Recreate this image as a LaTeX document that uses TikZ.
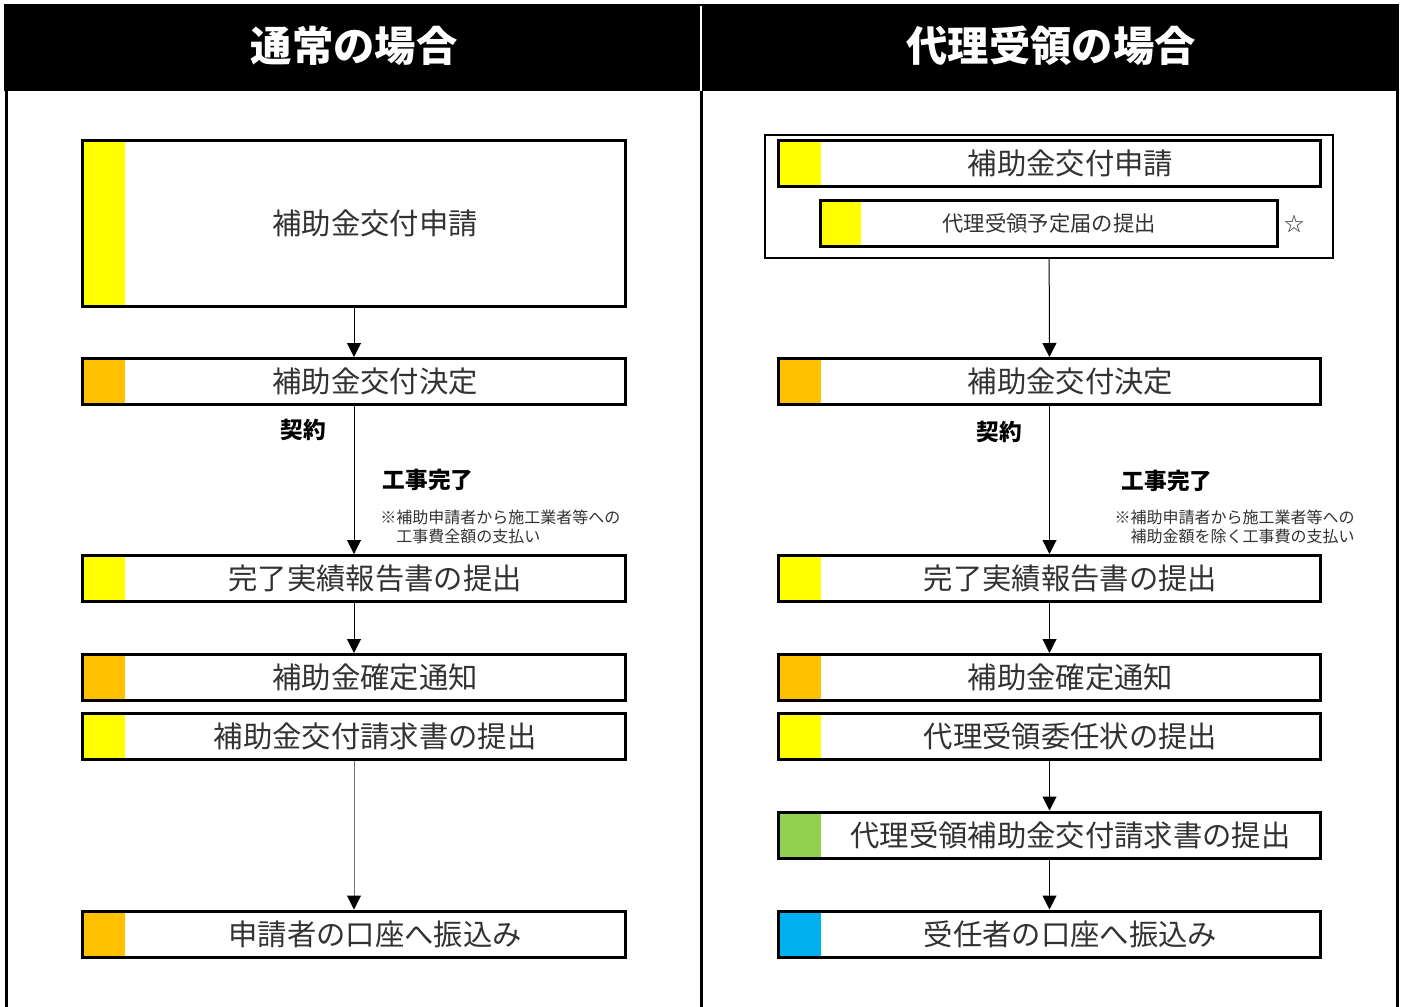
\documentclass[tikz,border=0pt]{standalone}
\usepackage{fontspec}
\setmainfont{Noto Sans CJK JP}
\usetikzlibrary{arrows.meta}

\definecolor{stepyellow}{RGB}{255,255,0}
\definecolor{steporange}{RGB}{255,192,0}
\definecolor{stepgreen}{RGB}{146,208,80}
\definecolor{stepblue}{RGB}{0,176,240}
\definecolor{boxink}{RGB}{50,50,50}

\tikzset{
  flowbox/.style={draw, line width=2.25pt, rectangle, inner sep=0pt,
    minimum width=407pt, minimum height=34.5pt,
    font=\fontsize{22}{25}\selectfont, text=boxink,
    execute at begin node=\hspace*{31.5pt},
    path picture={\fill[#1] (path picture bounding box.south west) rectangle ([xshift=32pt]path picture bounding box.north west);}},
  smallbox/.style={draw, line width=2.25pt, rectangle, inner sep=0pt,
    minimum width=342.75pt, minimum height=34.5pt,
    font=\fontsize{16}{19}\selectfont, text=boxink,
    path picture={\fill[#1] (path picture bounding box.south west) rectangle ([xshift=30pt]path picture bounding box.north west);}},
  groupbox/.style={draw, line width=1.5pt, rectangle, inner sep=0pt,
    minimum width=426pt, minimum height=92.25pt},
  flowarrow/.style={-{Triangle[width=10.5pt,length=10.5pt,black]}, line width=0.75pt},
  steplabel/.style={font=\bfseries\fontsize{17}{20}\selectfont},
  notetext/.style={font=\fontsize{12}{14.25}\selectfont, align=left, inner sep=0pt, text=boxink},
  headtext/.style={font=\bfseries\fontsize{31}{36}\selectfont, text=white}
}

\begin{document}
\begin{tikzpicture}[x=0.75pt,y=0.75pt,yscale=-1,xscale=1]
\useasboundingbox (0,0) rectangle (1404,1007);

% header and frame
\fill (4,4) rectangle (1399,91);
\draw [white, line width=1.5pt] (701,6) -- (701,91);
\draw [line width=2.25pt] (6,91) -- (6,1007);
\draw [line width=2.25pt] (701,91) -- (701,1007);
\draw [line width=2.25pt] (1397,91) -- (1397,1007);
\node [headtext] (headL) at (354,46) {通常の場合};
\node [headtext] (headR) at (1051,46) {代理受領の場合};

% left column
\node [flowbox=stepyellow, minimum height=124.5pt] (l1) at (354,223.5) {補助金交付申請};
\node [flowbox=steporange] (l2) at (354,381.5) {補助金交付決定};
\node [flowbox=stepyellow] (l3) at (354,578.5) {完了実績報告書の提出};
\node [flowbox=steporange] (l4) at (354,677.5) {補助金確定通知};
\node [flowbox=stepyellow] (l5) at (354,736.5) {補助金交付請求書の提出};
\node [flowbox=steporange] (l6) at (354,934) {申請者の口座へ振込み};

\draw [flowarrow] (l1) -- (l2);
\draw [flowarrow] (l2) -- (l3);
\draw [flowarrow] (l3) -- (l4);
\draw [flowarrow, draw=black!55] (l5) -- (l6);

\node [steplabel] (contractL) at (303,430) {契約};
\node [steplabel] (doneL) at (428,480) {工事完了};
\node [notetext, anchor=north west] (noteL) at (380,510) {※補助申請者から施工業者等への\\　工事費全額の支払い};

% right column
\node [groupbox] (grp) at (1049,196.5) {};
\node [flowbox=stepyellow] (r1) at (1049.5,163.5) {補助金交付申請};
\node [smallbox=stepyellow] (r1b) at (1049,223.5) {代理受領予定届の提出};
\node [font=\fontsize{15}{18}\selectfont, text=boxink] (star) at (1294,224) {☆};
\node [flowbox=steporange] (r2) at (1049.5,381.5) {補助金交付決定};
\node [flowbox=stepyellow] (r3) at (1049.5,578.5) {完了実績報告書の提出};
\node [flowbox=steporange] (r4) at (1049.5,677.5) {補助金確定通知};
\node [flowbox=stepyellow] (r5) at (1049.5,736.5) {代理受領委任状の提出};
\node [flowbox=stepgreen] (r6) at (1049.5,835) {代理受領補助金交付請求書の提出};
\node [flowbox=stepblue] (r7) at (1049.5,934) {受任者の口座へ振込み};

\draw [flowarrow] (grp) -- (r2);
\draw [flowarrow] (r2) -- (r3);
\draw [flowarrow] (r3) -- (r4);
\draw [flowarrow] (r5) -- (r6);
\draw [flowarrow] (r6) -- (r7);

\node [steplabel] (contractR) at (999,432) {契約};
\node [steplabel] (doneR) at (1167,481) {工事完了};
\node [notetext, anchor=north east] (noteR) at (1355,510) {※補助申請者から施工業者等への\\　補助金額を除く工事費の支払い};

\end{tikzpicture}
\end{document}
